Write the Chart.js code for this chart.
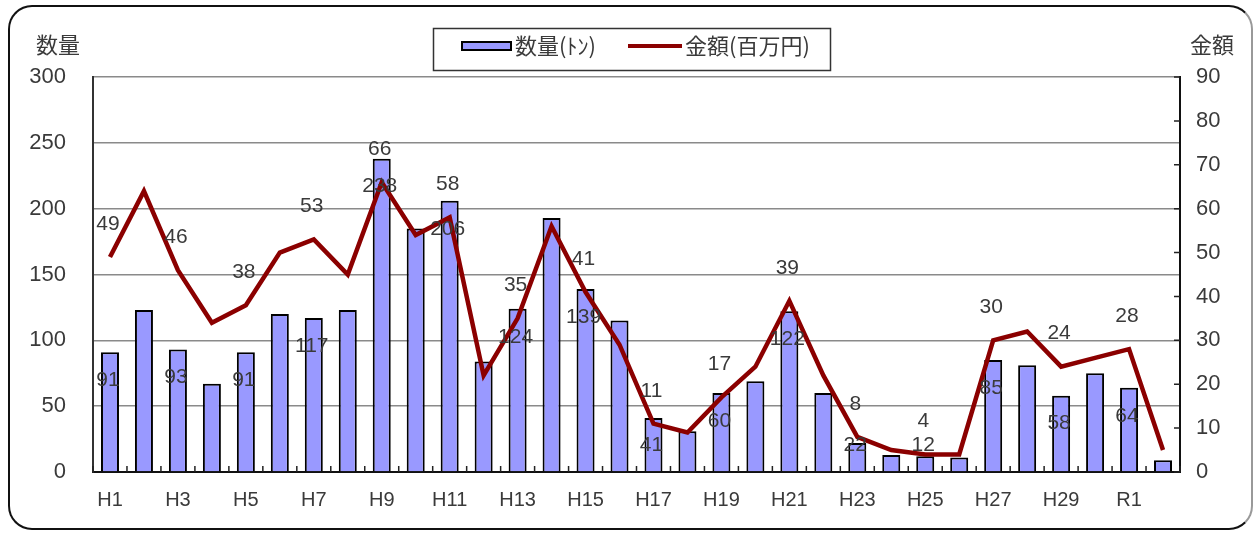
<!DOCTYPE html>
<html lang="ja">
<head>
<meta charset="utf-8">
<title>数量・金額の推移</title>
<script src="https://cdn.jsdelivr.net/npm/chart.js@4.4.1/dist/chart.umd.min.js"></script>
<style>
  html, body { margin: 0; padding: 0; background: #fff; }
  #wrap { position: relative; width: 1255px; height: 533px; overflow: hidden; }
  #wrap canvas { position: absolute; left: 0; top: 0; }
  /* 外枠(角丸) */
  #frame {
    position: absolute; left: 8px; top: 5px; width: 1241px; height: 521px;
    border: 2px solid #111; border-right-color: #999; border-radius: 24px;
    pointer-events: none;
  }
</style>
</head>
<body>
<div id="wrap">
  <canvas id="chart" width="1255" height="533"></canvas>
  <div id="frame"></div>
</div>
<script>
// 年度
const years = [
  'H1', 'H2', 'H3', 'H4', 'H5', 'H6', 'H7', 'H8', 'H9', 'H10',
  'H11', 'H12', 'H13', 'H14', 'H15', 'H16', 'H17', 'H18', 'H19', 'H20',
  'H21', 'H22', 'H23', 'H24', 'H25', 'H26', 'H27', 'H28', 'H29', 'H30',
  'R1', 'R2'
];
// 数量(トン)
const quantity = [
  91, 123, 93, 67, 91, 120, 117, 123, 238, 185,
  206, 84, 124, 193, 139, 115, 41, 31, 60, 69,
  122, 60, 22, 13, 12, 11, 85, 81, 58, 75,
  64, 9
];
// 金額(百万円)
const amount = [
  49, 64, 46, 34, 38, 50, 53, 45, 66, 54,
  58, 22, 35, 56, 41, 29, 11, 9, 17, 24,
  39, 22, 8, 5, 4, 4, 30, 32, 24, 26,
  28, 5
];

const BAR_COLOR = '#9999ff';
const LINE_COLOR = '#8b0000';
const NUM_FONT = '"Liberation Sans", Arial, sans-serif';
const JP_FONT = '"Noto Sans CJK JP", "Noto Sans", sans-serif';
const TEXT_COLOR = '#3a3a3a';

// 軸の内向き目盛り
const innerTicks = {
  id: 'innerTicks',
  beforeDatasetsDraw(chart) {
    const { ctx, chartArea, scales: { x, y2 } } = chart;
    ctx.save();
    ctx.strokeStyle = '#222';
    ctx.lineWidth = 1.5;
    ctx.beginPath();
    for (let i = 0; i <= years.length; i++) {
      const px = x.getPixelForValue(i - 0.5);
      ctx.moveTo(px, chartArea.bottom);
      ctx.lineTo(px, chartArea.bottom - 6);
    }
    for (let v = 0; v <= 90; v += 10) {
      const py = y2.getPixelForValue(v);
      ctx.moveTo(chartArea.right - 6, py);
      ctx.lineTo(chartArea.right, py);
    }
    ctx.stroke();
    ctx.restore();
  }
};

// 1年おきの値ラベル
const valueLabels = {
  id: 'valueLabels',
  afterDatasetsDraw(chart) {
    const { ctx, chartArea } = chart;
    const bars = chart.getDatasetMeta(0).data;
    const pts = chart.getDatasetMeta(1).data;
    ctx.save();
    ctx.font = '21px ' + NUM_FONT;
    ctx.fillStyle = TEXT_COLOR;
    ctx.textAlign = 'center';
    ctx.textBaseline = 'middle';
    years.forEach((_, i) => {
      if (i % 2) return;
      const by = Math.min(bars[i].y + 28, chartArea.bottom - 27);
      ctx.fillText(String(quantity[i]), bars[i].x - 2, by);
      ctx.fillText(String(amount[i]), pts[i].x - 2, pts[i].y - 33);
    });
    ctx.restore();
  }
};

// 凡例と軸タイトル
const legendBox = {
  id: 'legendBox',
  afterDraw(chart) {
    const { ctx } = chart;
    const ds = chart.data.datasets;
    ctx.save();
    ctx.textBaseline = 'middle';

    ctx.font = '22px ' + JP_FONT;
    ctx.fillStyle = TEXT_COLOR;
    ctx.textAlign = 'left';
    ctx.fillText('数量', 36, 45);
    ctx.textAlign = 'right';
    ctx.fillText('金額', 1234, 45);

    ctx.strokeStyle = '#333';
    ctx.lineWidth = 1.5;
    ctx.strokeRect(433.5, 28.5, 397, 42);

    const cy = 46;
    ctx.fillStyle = BAR_COLOR;
    ctx.fillRect(462, cy - 4, 49, 8);
    ctx.strokeStyle = '#000';
    ctx.lineWidth = 2;
    ctx.strokeRect(462, cy - 4, 49, 8);

    ctx.font = '22px ' + JP_FONT;
    ctx.fillStyle = TEXT_COLOR;
    ctx.textAlign = 'left';
    ctx.fillText(ds[0].label, 515, cy);

    ctx.strokeStyle = LINE_COLOR;
    ctx.lineWidth = 4;
    ctx.beginPath();
    ctx.moveTo(628, cy);
    ctx.lineTo(682, cy);
    ctx.stroke();
    ctx.fillText(ds[1].label, 685, cy);
    ctx.restore();
  }
};

new Chart(document.getElementById('chart'), {
  data: {
    labels: years,
    datasets: [
      {
        type: 'bar',
        label: '数量(ﾄﾝ)',
        data: quantity,
        yAxisID: 'y',
        backgroundColor: BAR_COLOR,
        borderColor: '#000',
        borderWidth: 2,
        barPercentage: 0.53,
        categoryPercentage: 1,
        order: 2
      },
      {
        type: 'line',
        label: '金額(百万円)',
        data: amount,
        yAxisID: 'y2',
        borderColor: LINE_COLOR,
        borderWidth: 4.5,
        pointRadius: 0,
        tension: 0,
        borderJoinStyle: 'miter',
        order: 1
      }
    ]
  },
  options: {
    responsive: false,
    animation: false,
    devicePixelRatio: 1,
    layout: { padding: { top: 77, left: 0, right: 0, bottom: 0 } },
    plugins: {
      legend: { display: false },
      tooltip: { enabled: false }
    },
    scales: {
      x: {
        grid: { display: true, drawOnChartArea: false, drawTicks: false },
        border: { color: '#111', width: 2 },
        ticks: {
          autoSkip: false,
          maxRotation: 0,
          padding: 16,
          color: TEXT_COLOR,
          font: { family: NUM_FONT, size: 20 },
          callback: (v, i) => (i % 2 === 0 ? years[i] : '')
        },
        afterFit: s => { s.height = 61; }
      },
      y: {
        position: 'left',
        min: 0,
        max: 300,
        grid: { color: '#8a8a8a', lineWidth: 1.5, drawTicks: false },
        border: { color: '#333', width: 2 },
        ticks: {
          stepSize: 50,
          padding: 27,
          color: TEXT_COLOR,
          font: { family: NUM_FONT, size: 22 }
        },
        afterFit: s => { s.width = 93; }
      },
      y2: {
        position: 'right',
        min: 0,
        max: 90,
        grid: { drawOnChartArea: false, drawTicks: false },
        border: { color: '#111', width: 2 },
        ticks: {
          stepSize: 10,
          padding: 16,
          color: TEXT_COLOR,
          font: { family: NUM_FONT, size: 22 }
        },
        afterFit: s => { s.width = 75; }
      }
    }
  },
  plugins: [innerTicks, valueLabels, legendBox]
});
</script>
</body>
</html>
